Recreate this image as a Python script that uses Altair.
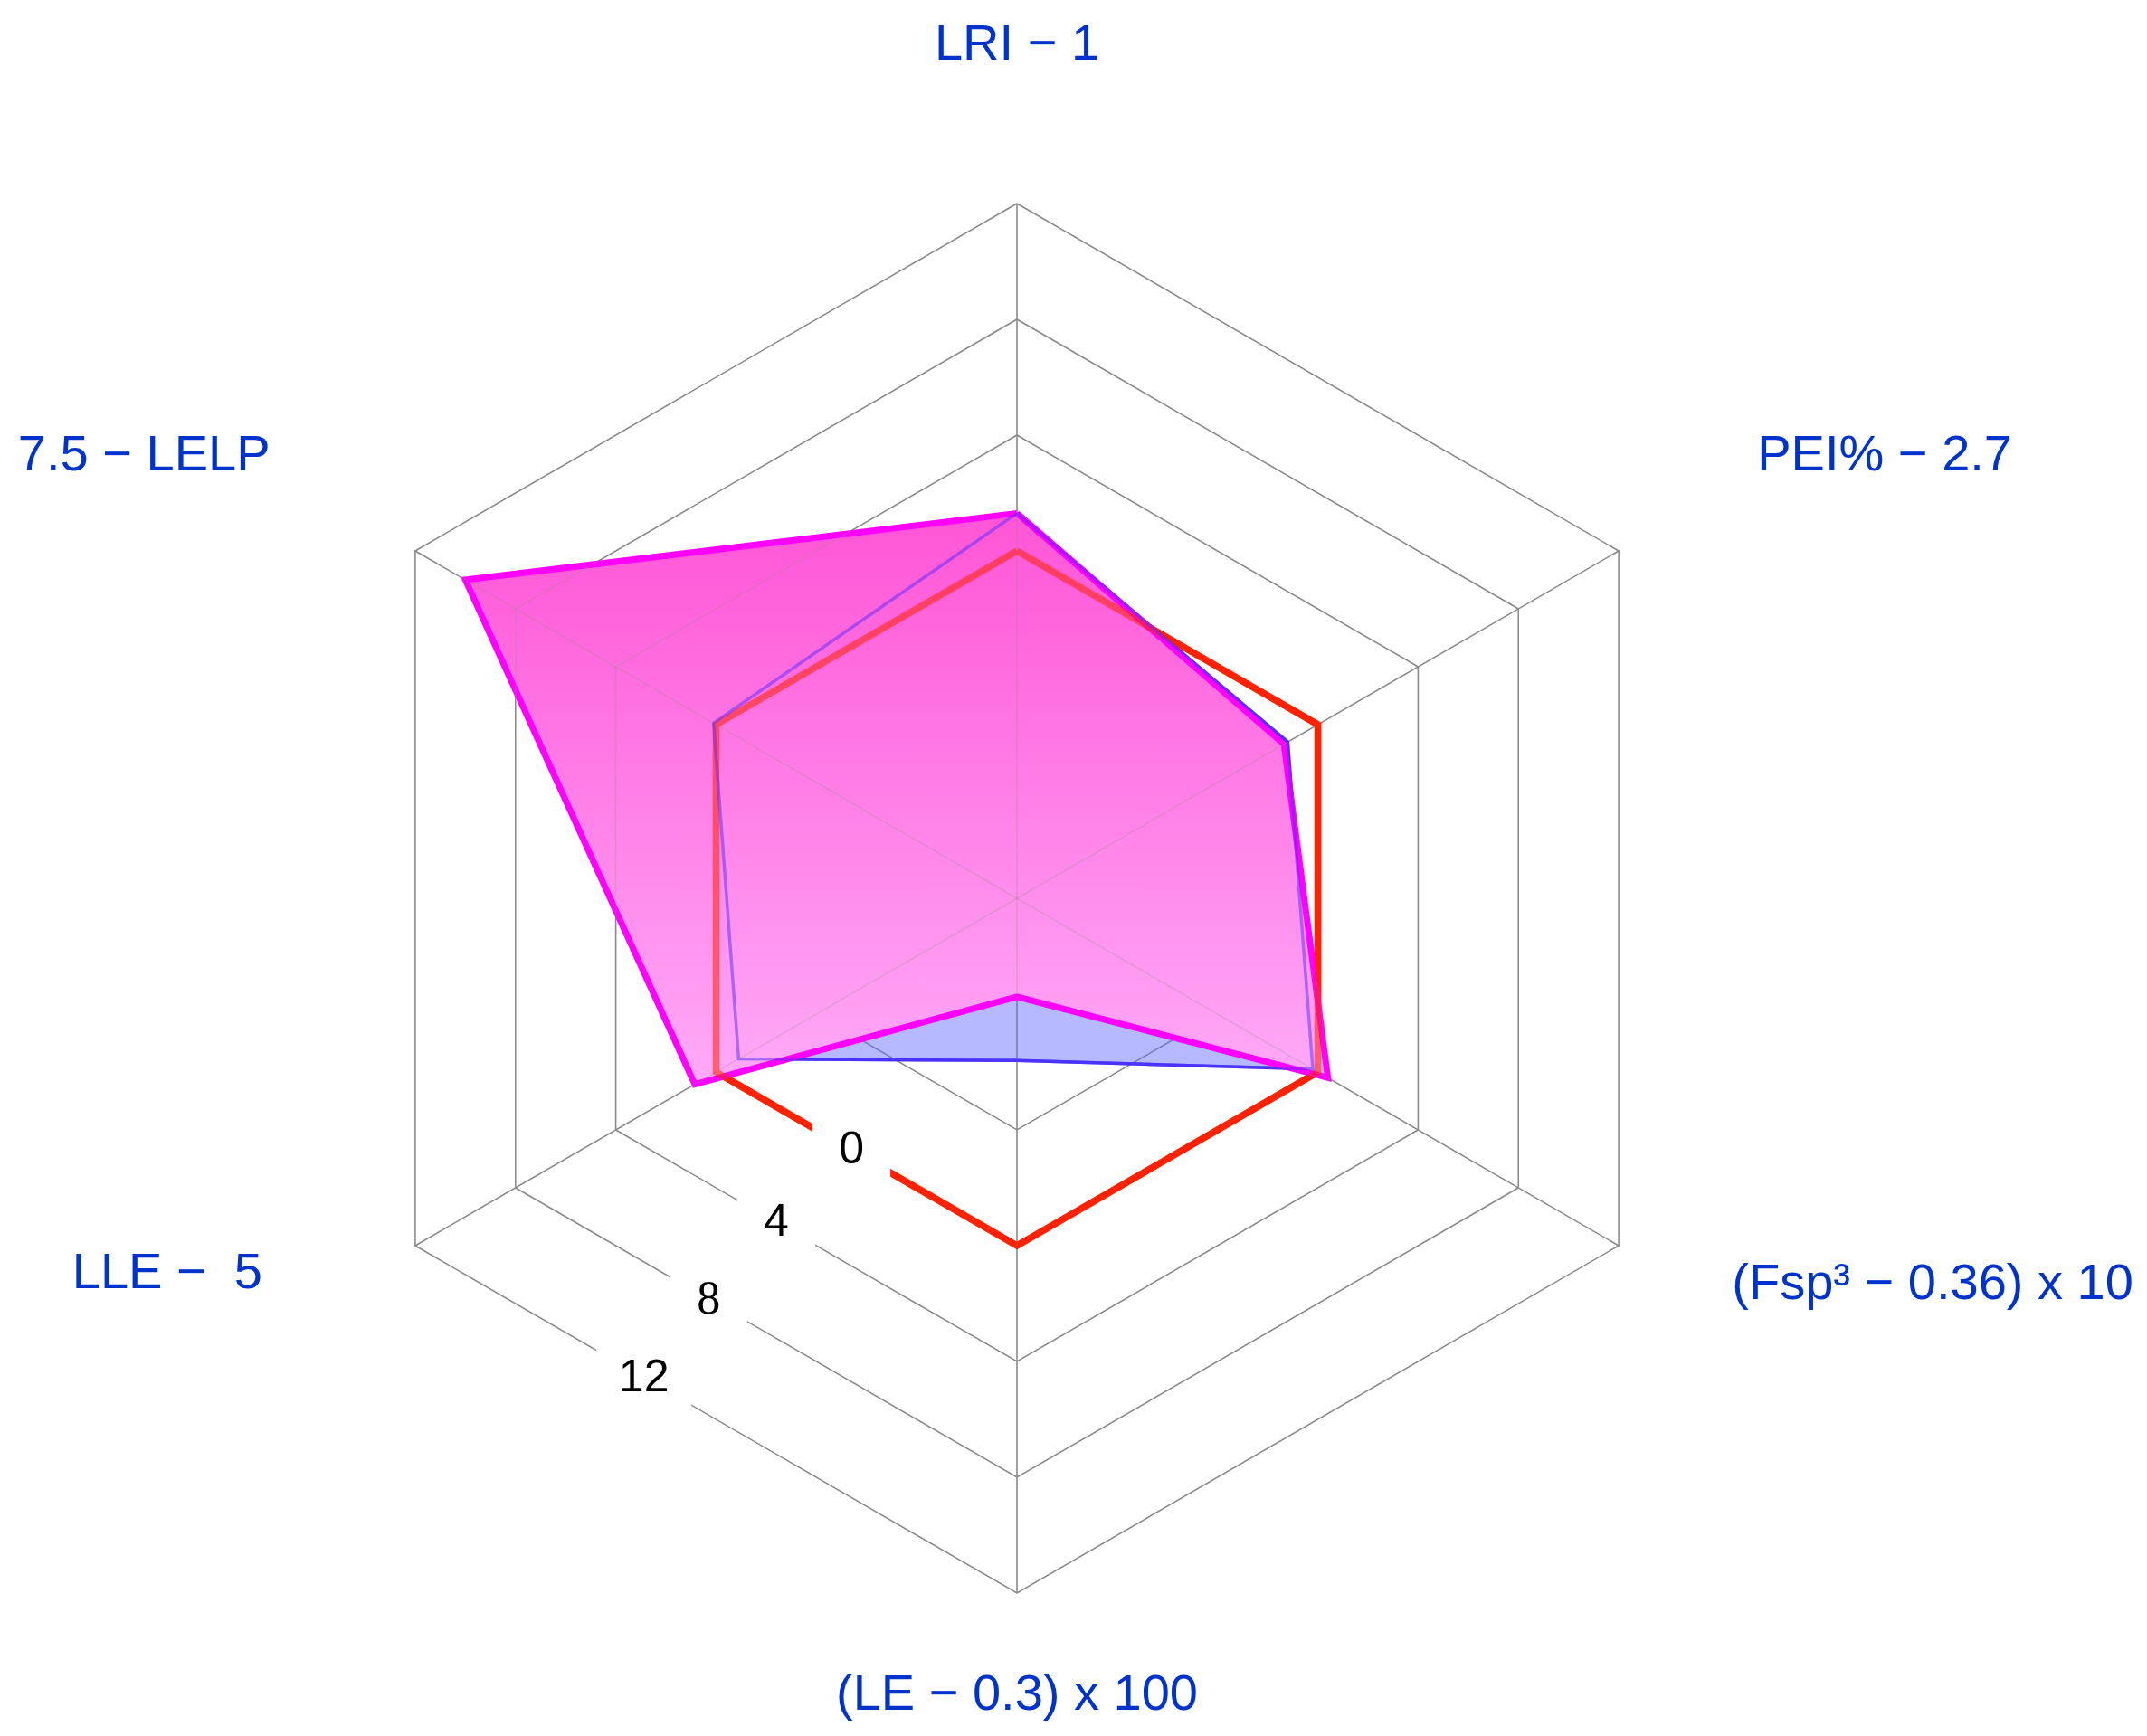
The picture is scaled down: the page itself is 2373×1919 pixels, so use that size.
import altair as alt
import pandas as pd

# ---------------- data ----------------
AXES = ["LRI − 1", "PEI% − 2.7", "(Fsp³ − 0.36) x 10", "(LE − 0.3) x 100", "LLE −\u00a0\u00a05", "7.5 − LELP"]
SERIES_BLUE = [1.3, -1.2, -0.2, -6.4, -0.9, 0.1]
SERIES_MAGENTA = [1.3, -1.35, 0.4, -8.6, 0.85, 10.0]
REFERENCE = [0, 0, 0, 0, 0, 0]
GRID_LEVELS = [-4, 0, 4, 8, 12]
TICK_VALUES = [0, 4, 8, 12]
TICK_LABELS = ["0", "4", "8", "12"]
R_MIN, R_MAX = -12, 12

# ---------------- layout ----------------
PX_PER_UNIT = 32
W, H = 2350, 1895
CX, CY = 1116, 985
LABEL_ANGLE = [90, 30.9, -28.3, -90, 206.4, 149.3]
LABEL_RADIUS = [29.5, 29.8, 28.05, 27.5, 29.1, 30.0]
LABEL_ALIGN = ["center", "left", "left", "center", "right", "right"]
TICK_T = [0.55, 0.6, 0.615, 0.62]  # position of each tick label along the lower-left edge

xs = alt.Scale(domain=[-CX / PX_PER_UNIT, (W - CX) / PX_PER_UNIT], nice=False, zero=False)
ys = alt.Scale(domain=[-(H - CY) / PX_PER_UNIT, CY / PX_PER_UNIT], nice=False, zero=False)
X = alt.X("px:Q", scale=xs, axis=None)
Y = alt.Y("py:Q", scale=ys, axis=None)


def polar(chart):
    return chart.transform_calculate(
        theta="(90 - 60*datum.axis) * PI / 180",
        r=f"datum.value - ({R_MIN})",
    ).transform_calculate(
        px="datum.r * cos(datum.theta)",
        py="datum.r * sin(datum.theta)",
    )


# polygons (closed: first vertex repeated)
poly_rows = []
for name, vals in [("ref", REFERENCE), ("blue", SERIES_BLUE), ("magenta", SERIES_MAGENTA)]:
    for k in range(7):
        i = k % 6
        poly_rows.append({"series": name, "order": k, "axis": i, "value": vals[i]})
poly_df = pd.DataFrame(poly_rows)

grid_rows = []
for lv in GRID_LEVELS:
    for k in range(7):
        grid_rows.append({"level": lv, "order": k, "axis": k % 6, "value": lv})
grid_df = pd.DataFrame(grid_rows)

spoke_df = pd.DataFrame({"axis": list(range(6)), "value": [R_MAX] * 6})

tick_df = pd.DataFrame({"value": TICK_VALUES, "label": TICK_LABELS, "t": TICK_T})

label_df = pd.DataFrame({"label": AXES, "ang": LABEL_ANGLE, "rad": LABEL_RADIUS, "al": LABEL_ALIGN})

GRID_COLOR = "#8a8a8a"


def grid_layer(opacity, min_level):
    return polar(alt.Chart(grid_df).transform_filter(f"datum.level >= {min_level}")).mark_line(
        color=GRID_COLOR, strokeWidth=1.5, strokeJoin="miter", opacity=opacity
    ).encode(x=X, y=Y, order="order:Q", detail="level:N")


def spoke_layer(opacity):
    return alt.Chart(spoke_df).transform_calculate(
        theta="(90 - 60*datum.axis) * PI / 180",
        r=f"datum.value - ({R_MIN})",
    ).transform_calculate(
        px="datum.r * cos(datum.theta)",
        py="datum.r * sin(datum.theta)",
        px0="0",
        py0="0",
    ).mark_rule(color=GRID_COLOR, strokeWidth=1.5, opacity=opacity).encode(
        x=alt.X("px0:Q", scale=xs, axis=None),
        y=alt.Y("py0:Q", scale=ys, axis=None),
        x2="px:Q",
        y2="py:Q",
    )


def red_layer(opacity):
    return polar(alt.Chart(poly_df).transform_filter("datum.series == 'ref'")).mark_line(
        color="#ff2200", strokeWidth=7.5, strokeJoin="miter", opacity=opacity
    ).encode(x=X, y=Y, order="order:Q")


blue = polar(alt.Chart(poly_df).transform_filter("datum.series == 'blue'")).mark_line(
    stroke="#3a3aff", strokeWidth=3.5, strokeJoin="miter",
    fill="rgba(90,100,255,0.45)",
).encode(x=X, y=Y, order="order:Q")

blue_edge_over = polar(alt.Chart(poly_df).transform_filter("datum.series == 'blue'")).mark_line(
    stroke="#5a2aff", strokeWidth=3.5, strokeJoin="miter", opacity=0.5,
).encode(x=X, y=Y, order="order:Q")

magenta_fill = alt.Gradient(
    gradient="linear",
    stops=[
        alt.GradientStop(color="#ff55d6", offset=0),
        alt.GradientStop(color="#ffaaf8", offset=1),
    ],
    x1=0, x2=0, y1=0, y2=1,
)
magenta = polar(alt.Chart(poly_df).transform_filter("datum.series == 'magenta'")).mark_line(
    stroke="#ff00ff", strokeWidth=7, strokeJoin="miter", fill=magenta_fill,
).encode(x=X, y=Y, order="order:Q")


def tick_pos(chart):
    return chart.transform_calculate(
        r=f"datum.value - ({R_MIN})",
    ).transform_calculate(
        px="datum.r * ((1-datum.t)*cos(-PI/2) + datum.t*cos(210*PI/180))",
        py="datum.r * ((1-datum.t)*sin(-PI/2) + datum.t*sin(210*PI/180))",
        boxsize="pow(length(datum.label)*19 + 67, 2)",
    )


boxes = tick_pos(alt.Chart(tick_df)).mark_point(
    shape="square", filled=True, color="white", opacity=1, strokeWidth=0
).encode(x=X, y=Y, size=alt.Size("boxsize:Q", scale=None, legend=None))

tick_sans = tick_pos(alt.Chart(tick_df)).transform_filter("datum.label != '8'").mark_text(
    font="Liberation Sans", fontSize=50, color="black", align="center", baseline="middle"
).encode(x=X, y=Y, text="label:N")

tick_serif = tick_pos(alt.Chart(tick_df)).transform_filter("datum.label == '8'").mark_text(
    font="Liberation Serif", fontSize=52, color="black", align="center", baseline="middle"
).encode(x=X, y=Y, text="label:N")


def axis_labels(al):
    return alt.Chart(label_df).transform_filter(f"datum.al == '{al}'").transform_calculate(
        px="datum.rad * cos(datum.ang * PI / 180)",
        py="datum.rad * sin(datum.ang * PI / 180)",
    ).mark_text(
        font="Liberation Sans", fontSize=56, color="#0033cc", align=al, baseline="middle"
    ).encode(x=X, y=Y, text="label:N")


chart = alt.layer(
    grid_layer(1.0, -100), spoke_layer(1.0), red_layer(1.0), blue, magenta,
    grid_layer(0.25, 4), spoke_layer(0.25), red_layer(0.55), blue_edge_over,
    boxes, tick_sans, tick_serif,
    axis_labels("center"), axis_labels("left"), axis_labels("right"),
).properties(
    width=W, height=H, padding=0, autosize=alt.AutoSizeParams(type="none"), background="white"
).configure_view(stroke=None)

chart.save("out.html", embed_options={"renderer": "svg", "actions": False})
